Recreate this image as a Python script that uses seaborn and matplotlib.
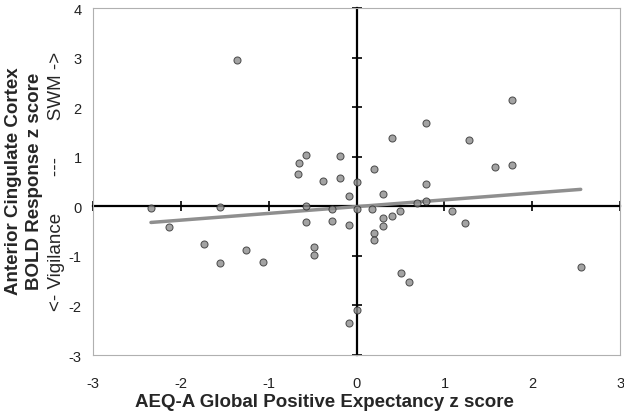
import numpy as np
import pandas as pd
import seaborn as sns
import matplotlib.pyplot as plt

# AEQ-A global positive expectancy (x) vs ACC BOLD response (y)
aeq_z = [-1.36, -0.58, -0.66, -0.67, -0.19, -0.38, -0.19, 0.01, -0.09,
         -2.34, -1.55, -0.58, 1.77, 0.79, 0.40, 1.28, 0.20, 1.57, 1.77,
         0.79, 0.30, 0.79, 0.69, -0.28, 0.00, -2.14, -0.58, -0.28, -0.09,
         -1.74, -1.26, -1.55, -1.07, -0.48, -0.48, -0.09, 0.01, 0.18,
         0.49, 1.08, 0.30, 0.40, 0.30, 0.20, 0.20, 1.23, 0.50, 0.60, 2.55]
bold_z = [2.96, 1.04, 0.88, 0.65, 1.02, 0.52, 0.57, 0.49, 0.20,
          -0.04, -0.02, 0.01, 2.14, 1.68, 1.38, 1.34, 0.76, 0.79, 0.83,
          0.45, 0.24, 0.10, 0.07, -0.05, -0.06, -0.42, -0.32, -0.29, -0.37,
          -0.76, -0.89, -1.14, -1.12, -0.83, -0.98, -2.36, -2.09, -0.05,
          -0.09, -0.09, -0.23, -0.19, -0.39, -0.53, -0.67, -0.34, -1.34, -1.52, -1.23]

df = pd.DataFrame({'aeq': aeq_z, 'bold': bold_z})

sns.set_style('white')
plt.rcParams['font.family'] = ['Liberation Sans', 'DejaVu Sans']
plt.rcParams['axes.unicode_minus'] = False

fig = plt.figure(figsize=(6.24, 4.14), dpi=100)
ax = fig.add_axes([0.149, 0.140, 0.845, 0.838])

sns.regplot(data=df, x='aeq', y='bold', ax=ax, ci=None, truncate=True,
            scatter_kws=dict(s=26, color='#8c8c8c', edgecolor='#2a2a2a',
                             linewidths=0.7, zorder=4),
            line_kws=dict(color='#8f8f8f', lw=2.5, zorder=3))

ax.set_xlim(-3, 3)
ax.set_ylim(-3, 4)
ax.set_xticks(range(-3, 4))
ax.set_yticks(range(-3, 5))
ax.tick_params(length=0, labelsize=10.5, colors='#222222')
ax.tick_params(axis='x', pad=15)
ax.tick_params(axis='y', pad=8)
for sp in ax.spines.values():
    sp.set_color('#b0b0b0')
    sp.set_linewidth(0.8)
ax.set_xlabel('')
ax.set_ylabel('')

# centre axes through the origin with crossing ticks
cx = ax.secondary_xaxis(0, transform=ax.transData)
cx.set_xticks(range(-3, 4))
cx.tick_params(direction='inout', length=7, width=1.4, labelbottom=False)
cx.spines['bottom'].set_linewidth(1.6)
cx.spines['bottom'].set_color('black')
cy = ax.secondary_yaxis(0, transform=ax.transData)
cy.set_yticks(range(-3, 5))
cy.tick_params(direction='inout', length=7, width=1.4, labelleft=False)
cy.spines['left'].set_linewidth(1.6)
cy.spines['left'].set_color('black')

fig.text(0.52, 0.027, 'AEQ-A Global Positive Expectancy z score',
         ha='center', va='center', fontsize=13.5, fontweight='bold')
fig.text(0.022, 0.562, 'Anterior Cingulate Cortex', rotation=90,
         ha='center', va='center', fontsize=13.5, fontweight='bold')
fig.text(0.056, 0.562, 'BOLD Response z score', rotation=90,
         ha='center', va='center', fontsize=13.5, fontweight='bold')
fig.text(0.090, 0.562, '<- Vigilance       ---       SWM ->', rotation=90,
         ha='center', va='center', fontsize=13.5)

fig.savefig('out.png', dpi=100)
